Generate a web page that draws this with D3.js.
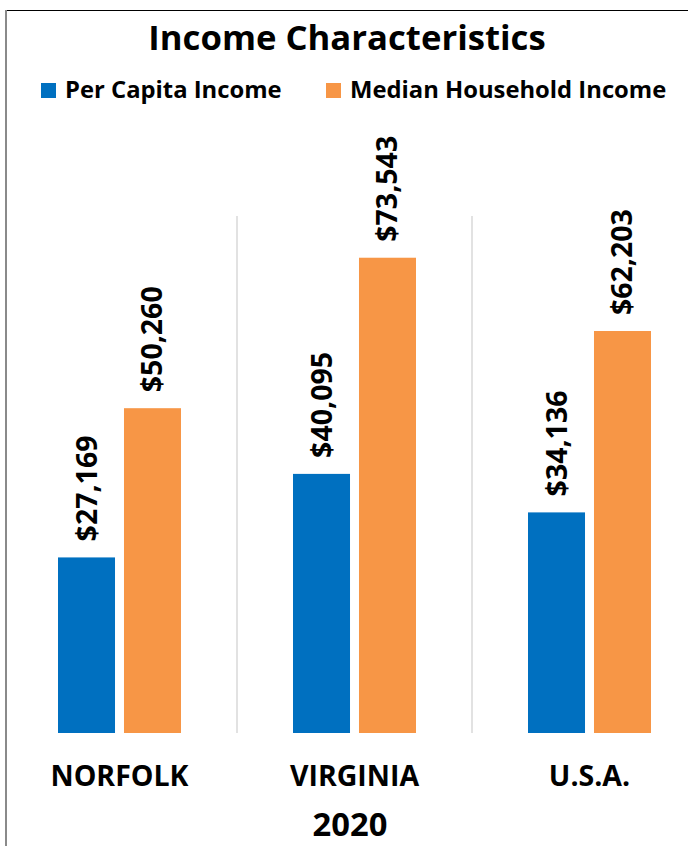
<!DOCTYPE html>
<html>
<head>
<meta charset="utf-8">
<script src="https://cdn.jsdelivr.net/npm/d3@7"></script>
<style>
  html, body { margin: 0; padding: 0; background: #fff; }
  svg { display: block; font-family: "Open Sans", sans-serif; }
</style>
</head>
<body>
<svg id="chart" width="688" height="846"></svg>
<script>
// Income figures, 2020
const places = ["NORFOLK", "VIRGINIA", "U.S.A."];
const seriesNames = ["Per Capita Income", "Median Household Income"];
const perCapita = [27169, 40095, 34136];
const medianHousehold = [50260, 73543, 62203];
const seriesColors = ["#0070C0", "#F79646"];

const svg = d3.select("#chart");
const W = 688, H = 846;

// frame
svg.append("line").attr("x1", 6).attr("x2", W).attr("y1", 10.5).attr("y2", 10.5)
  .attr("stroke", "#000").attr("stroke-width", 1.2);
svg.append("line").attr("x1", 6).attr("x2", 6).attr("y1", 10).attr("y2", H)
  .attr("stroke", "#8a8a8a").attr("stroke-width", 2);

// title
svg.append("text").attr("x", 347).attr("y", 50).attr("text-anchor", "middle")
  .attr("font-size", 34.7).attr("font-weight", 700).attr("fill", "#000")
  .text("Income Characteristics");

// legend
const legendX = [41, 326];
seriesNames.forEach((name, i) => {
  const g = svg.append("g").attr("transform", `translate(${legendX[i]},0)`);
  g.append("rect").attr("x", 0).attr("y", 83).attr("width", 15).attr("height", 15)
    .attr("fill", seriesColors[i]);
  g.append("text").attr("x", 24).attr("y", 98).attr("font-size", 23.8)
    .attr("font-weight", 700).attr("fill", "#000").text(name);
});

// scales
const x0 = d3.scaleBand().domain(places).range([2, 707]).paddingInner(0).paddingOuter(0);
const x1 = d3.scaleBand().domain(seriesNames).range([0, 123]).paddingInner(0.136);
const y = d3.scaleLinear().domain([0, 80000]).range([733, 216]);

// category separators
places.slice(1).forEach(p => {
  svg.append("line").attr("x1", x0(p)).attr("x2", x0(p))
    .attr("y1", y(80000)).attr("y2", y(0))
    .attr("stroke", "#d9d9d9").attr("stroke-width", 1.5);
});

const rows = places.map((p, i) => ({
  place: p,
  values: [perCapita[i], medianHousehold[i]]
}));

const fmt = d3.format("$,");

const groups = svg.append("g").selectAll("g").data(rows).join("g")
  .attr("transform", d => `translate(${x0(d.place) + (x0.bandwidth() - 123) / 2},0)`);

groups.selectAll("rect").data(d => d.values.map((v, i) => ({ v, i })))
  .join("rect")
  .attr("x", d => x1(seriesNames[d.i]))
  .attr("width", x1.bandwidth())
  .attr("y", d => y(d.v))
  .attr("height", d => y(0) - y(d.v))
  .attr("fill", d => seriesColors[d.i]);

// rotated value labels above each bar
groups.selectAll("text.val").data(d => d.values.map((v, i) => ({ v, i })))
  .join("text").attr("class", "val")
  .attr("transform", d => `translate(${x1(seriesNames[d.i]) + x1.bandwidth() / 2 + 10},${y(d.v) - 16}) rotate(-90)`)
  .attr("font-size", 28.5).attr("font-weight", 700).attr("fill", "#000")
  .text(d => fmt(d.v));

// category axis labels
const xAxis = d3.axisBottom(x0).tickSize(0).tickPadding(0);
const axisG = svg.append("g").attr("transform", "translate(0,786)").call(xAxis);
axisG.select(".domain").remove();
axisG.selectAll("text").attr("font-size", 28.5).attr("font-weight", 700)
  .attr("fill", "#000").attr("font-family", "'Open Sans', sans-serif")
  .attr("dy", 0).attr("y", 0);

// year caption
svg.append("text").attr("x", 350).attr("y", 836).attr("text-anchor", "middle")
  .attr("font-size", 32.7).attr("font-weight", 700).attr("fill", "#000").text("2020");
</script>
</body>
</html>
